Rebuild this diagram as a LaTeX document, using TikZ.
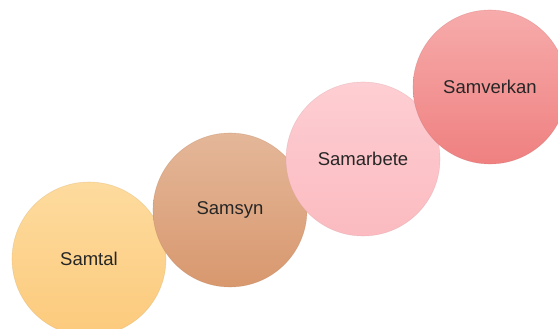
\documentclass[tikz,border=0pt]{standalone}
\usepackage{fontspec}
\setmainfont{Liberation Sans}
\usepackage{xcolor}
\usetikzlibrary{positioning}

\definecolor{samtalTop}{HTML}{FDDB9E}
\definecolor{samtalBot}{HTML}{FCCA7C}
\definecolor{samsynTop}{HTML}{E4B799}
\definecolor{samsynBot}{HTML}{D8986E}
\definecolor{samarbTop}{HTML}{FDCED3}
\definecolor{samarbBot}{HTML}{FBBBC0}
\definecolor{samverTop}{HTML}{F7ABAB}
\definecolor{samverBot}{HTML}{EF8080}

\tikzset{
	bubble/.style={circle, minimum size=154pt, inner sep=0pt,
		font=\fontsize{18.5}{20}\selectfont, text=black!85},
}

\begin{document}
\begin{tikzpicture}[x=1pt, y=-1pt]
		\useasboundingbox (0,0) rectangle (558,329);
		\def\r{77};
		
		\foreach \name/\x/\y/\col/\txt in {samtal/89/259/samtal/Samtal, samsyn/230/210/samsyn/Samsyn, samarbete/363/159/samarb/Samarbete, samverkan/490/87/samver/Samverkan}
			\node [bubble, top color=\col Top, bottom color=\col Bot, draw=\col Bot!85!black, draw opacity=0.35, line width=0.6pt] (\name) at (\x,\y) {\txt};
	\end{tikzpicture}
\end{document}
